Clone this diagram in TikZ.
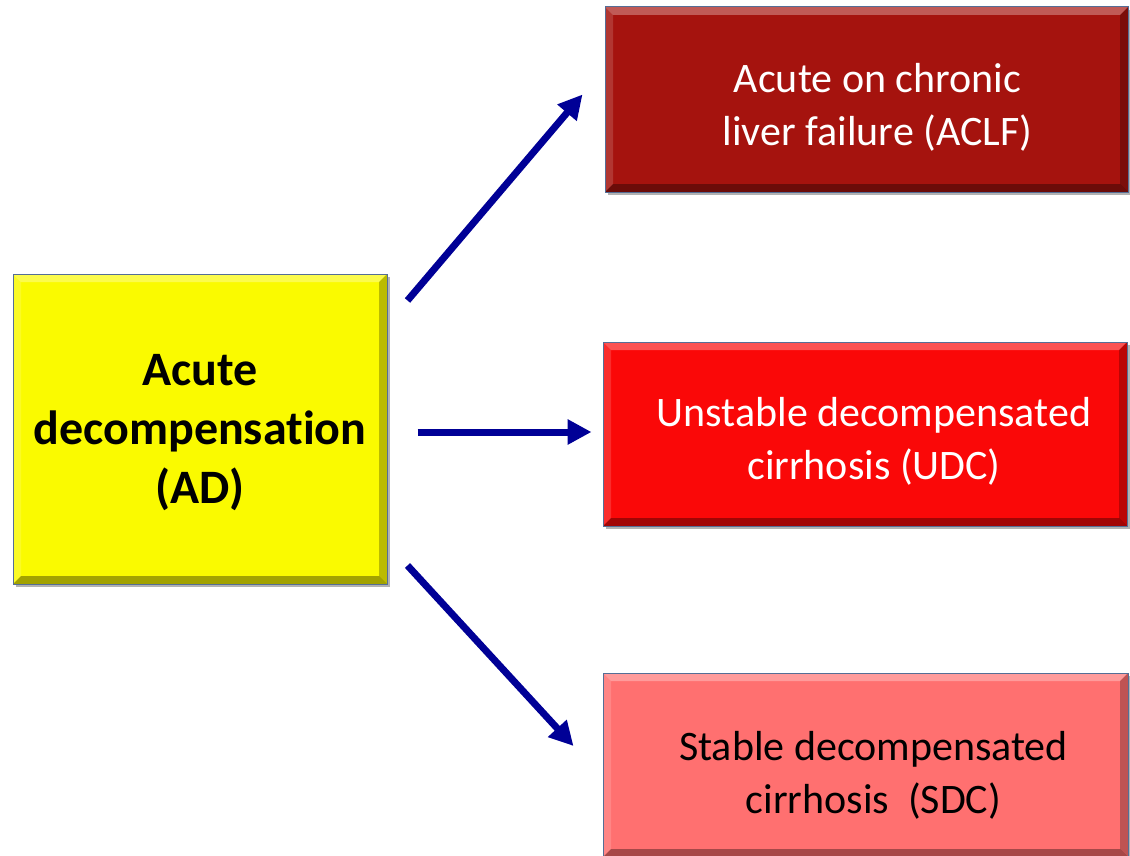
\documentclass[tikz,border=0pt]{standalone}
\usepackage{fontspec}
\setmainfont[Ligatures=NoCommon]{Carlito}
\usetikzlibrary{arrows.meta,calc,positioning,shadows}
\definecolor{adyellow}{RGB}{250,250,0}
\definecolor{aclfred}{RGB}{165,19,14}
\definecolor{udcred}{RGB}{250,8,8}
\definecolor{sdcred}{RGB}{255,112,112}
\definecolor{arrowblue}{RGB}{0,0,150}
\definecolor{edgeblue}{RGB}{85,110,150}

\begin{document}
\begin{tikzpicture}[x=1pt,y=-1pt,
  box/.style={draw=edgeblue,line width=1pt,inner sep=0pt,
    drop shadow={shadow xshift=3pt,shadow yshift=-3pt,opacity=.3,fill=black},
    path picture={
      \fill[white,opacity=.3] (path picture bounding box.north west) -- (path picture bounding box.north east)
        -- ++(-8pt,-8pt) -- ($(path picture bounding box.north west)+(8pt,-8pt)$) -- cycle;
      \fill[white,opacity=.15] (path picture bounding box.north west) -- (path picture bounding box.south west)
        -- ++(8pt,8pt) -- ($(path picture bounding box.north west)+(8pt,-8pt)$) -- cycle;
      \fill[black,opacity=.35] (path picture bounding box.south west) -- (path picture bounding box.south east)
        -- ++(-8pt,8pt) -- ($(path picture bounding box.south west)+(8pt,8pt)$) -- cycle;
      \fill[black,opacity=.25] (path picture bounding box.north east) -- (path picture bounding box.south east)
        -- ++(-8pt,8pt) -- ($(path picture bounding box.north east)+(-8pt,-8pt)$) -- cycle;
    }},
  label/.style={inner sep=0pt,align=center,font=\fontsize{42}{53}\selectfont},
  arr/.style={arrowblue,line width=7pt,-{Triangle[length=24pt,width=24pt]}}]
  \useasboundingbox (0,0) rectangle (1130,856);
  \clip (0,0) rectangle (1130,856);

  \coordinate (AD) at (200,429);
  \coordinate (ACLF) at (866.5,99.5);
  \coordinate (UDC) at (865,434);
  \coordinate (SDC) at (865.5,765);

  \node[box,fill=adyellow,minimum width=374pt,minimum height=310pt] (ad) at (AD) {};
  \node[box,fill=aclfred,minimum width=523pt,minimum height=185pt] (aclf) at (ACLF) {};
  \node[box,fill=udcred,minimum width=524pt,minimum height=184pt] (udc) at (UDC) {};
  \node[box,fill=sdcred,minimum width=525pt,minimum height=184pt] (sdc) at (SDC) {};

  \node[label,font=\fontsize{48}{59}\selectfont\bfseries] (adtext) at ([shift={(0,4)}]ad.center)
    {Acute\\decompensation\\(AD)};
  \node[label,text=white] (aclftext) at ([shift={(11,8)}]aclf.center) {Acute on chronic\\ liver failure (ACLF)};
  \node[label,text=white] (udctext) at ([shift={(9,7)}]udc.center) {Unstable decompensated\\cirrhosis (UDC)};
  \node[label] (sdctext) at ([shift={(8,10)}]sdc.center) {Stable decompensated\\cirrhosis~~(SDC)};

  \draw[arr] ([shift={(20,27)}]ad.north east) -- ([shift={(-22,-5)}]aclf.west);
  \draw[arr] ([shift={(30,3)}]ad.east) -- ([shift={(-11,-2)}]udc.west);
  \draw[arr] ([shift={(20,-19)}]ad.south east) -- ([shift={(-29,-19)}]sdc.west);
\end{tikzpicture}
\end{document}
